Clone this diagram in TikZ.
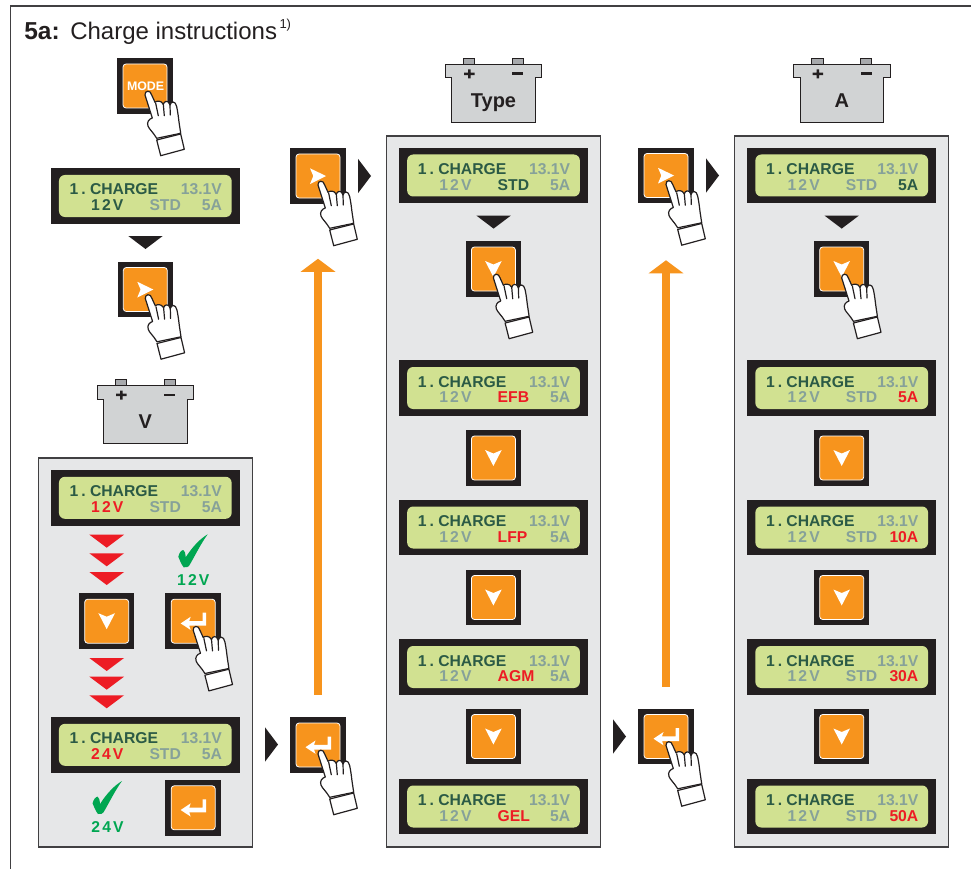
\documentclass[tikz,border=0pt]{standalone}
\usepackage{fontspec}
\setmainfont{Liberation Sans}
\usetikzlibrary{arrows.meta}
\definecolor{ink}{HTML}{231F20}
\definecolor{framec}{HTML}{414042}
\definecolor{orng}{HTML}{F7941D}
\definecolor{lcdbg}{HTML}{D1E191}
\definecolor{lcdon}{HTML}{2B5A45}
\definecolor{lcdoff}{HTML}{86A199}
\definecolor{redc}{HTML}{ED1C24}
\definecolor{greenc}{HTML}{00A651}
\definecolor{panelc}{HTML}{E6E7E8}
\definecolor{batt}{HTML}{D1D3D4}
\definecolor{term}{HTML}{A7A9AC}
\newcommand{\lcdfont}{\fontsize{15.7}{16}\selectfont\bfseries}
\newcommand{\spaced}[2]{#1\kern2.2pt#2\kern2.2pt V}
\tikzset{
  btnouter/.style={fill=ink,minimum size=55.5pt,inner sep=0,outer sep=0},
  btninner/.style={fill=orng,draw=white,line width=.8pt,rounded corners=3pt,minimum size=44pt,inner sep=0,outer sep=0},
  lcdouter/.style={fill=ink,minimum width=189.5pt,minimum height=55.7pt,inner sep=0,outer sep=0},
  lcdinner/.style={fill=lcdbg,rounded corners=6pt,minimum width=172.7pt,minimum height=42pt,inner sep=0,outer sep=0},
  lcdtext/.style={font=\lcdfont,inner sep=0,outer sep=0},
  panelbox/.style={fill=panelc,draw=framec,line width=1.1pt},
  flow/.style={draw=orng,line width=7.7pt,-{Triangle[width=34pt,length=13pt]}},
  handline/.style={draw=ink,fill=white,line width=1.2pt,line join=round},
  fingerline/.style={draw=ink,line width=1.2pt,line cap=round},
  battline/.style={draw=ink,line width=1pt,line join=miter},
}
\newcommand{\lcd}[9]{%
  \begin{scope}[shift={(#2,#3)}]
    \node[lcdouter] (#1) at (0,0) {};
    \node[lcdinner] (#1i) at (0,0) {};
    \node[lcdtext,anchor=base west,text=lcdon] (#1a) at (-75.6,-1) {1\kern3pt.\kern4.3pt CHARGE};
    \node[lcdtext,anchor=base east,text=lcdoff] (#1b) at (76.6,-1) {13.1V};
    \node[lcdtext,anchor=base west,text=#4] (#1c) at (-54.2,14.7) {\spaced{#5}{#6}};
    \node[lcdtext,anchor=base west,text=#7] (#1d) at (4.2,14.7) {#8};
    \node[lcdtext,anchor=base east,text=lcdoff] (#1e) at (76.6,14.7) {#9};
  \end{scope}}
\newcommand{\btn}[3]{%
  \node[btnouter] (#1) at (#2,#3) {};
  \node[btninner] (#1i) at (#2,#3) {};}
\newcommand{\iconright}[2]{\fill[white,shift={(#1,#2)}] (8,0) -- (-8,-7.7) -- (-4.7,0) -- (-8,8) -- cycle;}
\newcommand{\icondown}[2]{\fill[white,shift={(#1,#2)}] (-8.3,-8) -- (0,-4.5) -- (8.3,-8) -- (0,8) -- cycle;}
\newcommand{\iconenter}[2]{\fill[white,shift={(#1,#2)}] (-12.5,2.2) -- (-2.5,-4.5) -- (-4,-0.2) -- (9.5,-0.2) -- (9.5,-8.5) -- (13,-8.5) -- (13,4.5) -- (-4,4.5) -- (-2.5,8.8) -- cycle;}
\newcommand{\hand}[2]{%
  \begin{scope}[shift={(#1,#2)}]
    \path[handline] (11.7,54) -- (35.7,48) -- (39.3,63.3) -- (15.7,69.7) -- cycle;
    \path[handline] (0,9) .. controls (-0.5,4.5) and (5.5,3.5) .. (6.7,9) -- (10,16.3)
      .. controls (11.5,14.8) and (16,14) .. (18.3,18.3)
      .. controls (19,15) and (23.5,13.5) .. (25,19)
      .. controls (26,15) and (30.5,14.5) .. (31.7,20.7)
      .. controls (33,27) and (33.5,32) .. (34,36) -- (35.7,47.3) -- (11.7,52.3)
      .. controls (8,46) and (4,43) .. (3,40) .. controls (1.5,36) and (4,33) .. (7.3,32) -- cycle;
    \path[fingerline] (10.7,17.3) -- (13.3,29.7) (18.3,18.3) -- (19.3,29.7) (25,19) -- (25.3,29);
  \end{scope}}
\newcommand{\tick}[2]{\fill[greenc,shift={(#1,#2)}] (-29.4,22.4) .. controls (-28.5,18.5) and (-26.5,15.7) .. (-24.4,15.7)
  .. controls (-23,16) and (-22.3,19) .. (-22,23) .. controls (-15,12) and (-7,4) .. (0,0)
  .. controls (-6,8) and (-12,20) .. (-17.7,30) .. controls (-19,33) and (-22,33.5) .. (-24,33)
  .. controls (-26.5,30) and (-28,25.5) .. (-29.4,22.4) -- cycle;}
\newcommand{\battery}[4]{%
  \begin{scope}[shift={(#2,#3)}]
    \path[fill=term,battline] (-30,0) rectangle (-18.7,6.4) (18.7,0) rectangle (29.9,6.4);
    \path[fill=batt,battline] (-48.3,6.4) -- (48.3,6.4) -- (48.3,19.7) -- (41.7,19.7) -- (41.7,64.5) -- (-41.7,64.5) -- (-41.7,19.7) -- (-48.3,19.7) -- cycle;
    \fill[ink] (-29.3,14.4) rectangle (-18.8,16.9) (-25.3,11.2) rectangle (-22.8,20.3);
    \fill[ink] (18.7,14.2) rectangle (29.7,16.8);
    \node[inner sep=0,outer sep=0,font=\fontsize{20}{20}\selectfont\bfseries,text=ink,anchor=base] (#1) at (0,49.5) {#4};
  \end{scope}}
\newcommand{\chev}[2]{\fill[redc] (#1-17.3,#2) -- (#1+17.3,#2) -- (#1,#2+13) -- cycle;}
\newcommand{\darkdown}[2]{\fill[ink] (#1-17.2,#2) -- (#1+17.2,#2) -- (#1,#2+13) -- cycle;}
\newcommand{\darkright}[2]{\fill[ink] (#1,#2-17.2) -- (#1,#2+17.2) -- (#1+13,#2) -- cycle;}
\begin{document}
\begin{tikzpicture}[x=1pt,y=-1pt]
\useasboundingbox (0,0) rectangle (971,869);
\fill[white] (0,0) rectangle (971,869);
\draw[framec,line width=1.6pt] (971,6) -- (10.5,6) -- (10.5,869);
% title
\node[anchor=base west,inner sep=0,outer sep=0,text=ink,font=\fontsize{24.5}{25}\selectfont\bfseries] (titlea) at (24.3,39.7) {5a:};
\node[anchor=base west,inner sep=0,outer sep=0,text=ink,font=\fontsize{24}{25}\selectfont] (titleb) at (70.3,39.7) {Charge instructions};
\node[anchor=base west,inner sep=0,outer sep=0,text=ink,font=\fontsize{13}{14}\selectfont] (titlec) at (279.5,29) {1)};
% panels
\path[panelbox] (38.3,458) rectangle (252.5,847);
\path[panelbox] (386.3,136) rectangle (600.7,847);
\path[panelbox] (734.5,136) rectangle (948.9,847);
% first column
\btn{bmode}{145}{86}
\node[inner sep=0,outer sep=0,text=white,font=\fontsize{12.4}{13}\selectfont\bfseries] (bmodet) at (145.6,86) {MODE};
\hand{145}{86}
\lcd{la}{145.3}{196}{lcdon}{1}{2}{lcdoff}{STD}{5A}
\darkdown{145.5}{236}
\btn{bv}{145.3}{289.5}\iconright{145.3}{289.5}\hand{145.3}{289.5}
\battery{battv}{145.3}{379.3}{V}
\lcd{lb}{145.3}{497.8}{redc}{1}{2}{lcdoff}{STD}{5A}
\chev{106.7}{534.7}\chev{106.7}{553.3}\chev{106.7}{572}
\btn{bvd}{106.7}{621.2}\icondown{106.7}{621.2}
\tick{207.7}{534.3}
\node[lcdtext,anchor=base,text=greenc] (gva) at (193.3,585.7) {\spaced{1}{2}};
\btn{bve}{193.2}{621.2}\iconenter{193.2}{621.2}\hand{193.2}{621.2}
\chev{106.7}{658}\chev{106.7}{676.7}\chev{106.7}{695.3}
\lcd{lc}{145.3}{744.8}{redc}{2}{4}{lcdoff}{STD}{5A}
\tick{122}{781}
\node[lcdtext,anchor=base,text=greenc] (gvb) at (107.5,832.3) {\spaced{2}{4}};
\btn{bvf}{193.2}{807.8}\iconenter{193.2}{807.8}
% second column
\darkright{265}{744.5}
\btn{benta}{318}{745}\iconenter{318}{745}
\btn{brga}{318}{176}\iconright{318}{176}\hand{318}{176}
\draw[flow] ([yshift=22.3pt]benta.north) -- ([yshift=-55pt]brga.south);
\hand{318}{745}
\darkright{358}{176}
% middle column
\battery{batty}{493.5}{58.2}{Type}
\lcd{ma}{493.5}{175.5}{lcdoff}{1}{2}{lcdon}{STD}{5A}
\darkdown{493.6}{215.6}
\btn{mb}{493.4}{269}\icondown{493.4}{269}\hand{493.4}{269}
\lcd{mc}{493.5}{388}{lcdoff}{1}{2}{redc}{EFB}{5A}
\btn{md}{493.4}{458}\icondown{493.4}{458}
\lcd{me}{493.5}{527.5}{lcdoff}{1}{2}{redc}{LFP}{5A}
\btn{mf}{493.4}{597.5}\icondown{493.4}{597.5}
\lcd{mg}{493.5}{667}{lcdoff}{1}{2}{redc}{AGM}{5A}
\btn{mh}{493.4}{736.5}\icondown{493.4}{736.5}
\lcd{mi}{493.5}{806.5}{lcdoff}{1}{2}{redc}{GEL}{5A}
% fourth column
\darkright{613}{736.5}
\btn{bentb}{666}{736.5}\iconenter{666}{736.5}
\btn{brgb}{666}{175.5}\iconright{666}{175.5}\hand{666}{175.5}
\draw[flow] ([yshift=22pt]bentb.north) -- ([yshift=-57pt]brgb.south);
\hand{666}{736.5}
\darkright{706}{175.5}
% right column
\battery{battA}{841.8}{58.2}{A}
\lcd{ra}{841.7}{175.5}{lcdoff}{1}{2}{lcdoff}{STD}{\textcolor{lcdon}{5A}}
\darkdown{841.7}{215.6}
\btn{rb}{841.7}{269}\icondown{841.7}{269}\hand{841.7}{269}
\lcd{rc}{841.7}{388}{lcdoff}{1}{2}{lcdoff}{STD}{\textcolor{redc}{5A}}
\btn{rd}{841.7}{458}\icondown{841.7}{458}
\lcd{re}{841.7}{527.5}{lcdoff}{1}{2}{lcdoff}{STD}{\textcolor{redc}{10A}}
\btn{rf}{841.7}{597.5}\icondown{841.7}{597.5}
\lcd{rg}{841.7}{667}{lcdoff}{1}{2}{lcdoff}{STD}{\textcolor{redc}{30A}}
\btn{rh}{841.7}{736.5}\icondown{841.7}{736.5}
\lcd{ri}{841.7}{806.5}{lcdoff}{1}{2}{lcdoff}{STD}{\textcolor{redc}{50A}}
\end{tikzpicture}
\end{document}
